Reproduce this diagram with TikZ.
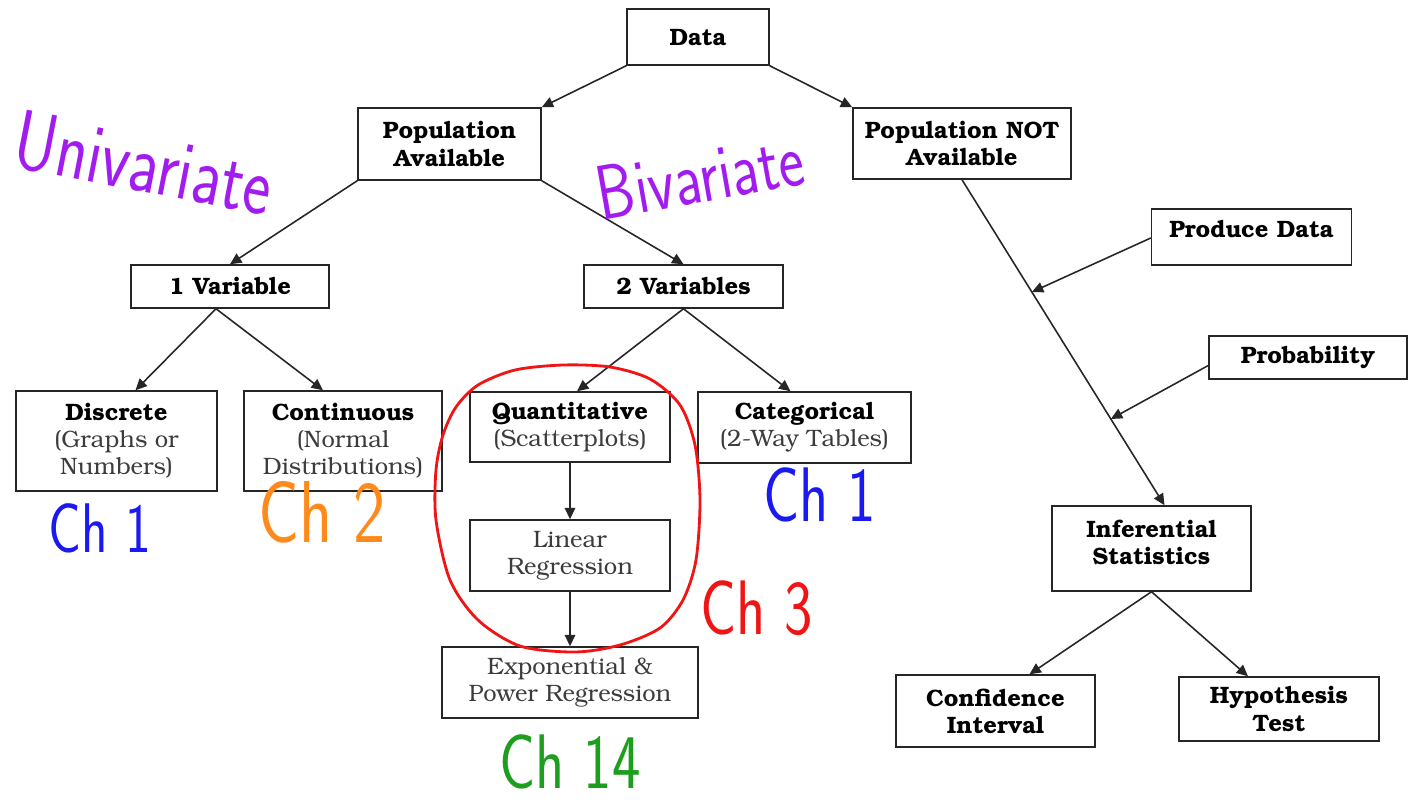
\documentclass[tikz,border=0pt]{standalone}
\usepackage[T1]{fontenc}
\usepackage{fontspec}
\usetikzlibrary{arrows.meta,calc}
\newfontfamily\handfont[FakeStretch=0.78]{lmsans17-regular.otf}
\newcommand\bkfont{\fontencoding{T1}\fontfamily{pbk}\selectfont}
\definecolor{txtgray}{HTML}{3C3C3C}
\definecolor{hpurple}{HTML}{A21CF0}
\definecolor{hblue}{HTML}{1A1AF0}
\definecolor{horange}{HTML}{FF8A1C}
\definecolor{hred}{HTML}{F01414}
\definecolor{hgreen}{HTML}{1E9E1E}
\tikzset{
  box/.style 2 args={draw=black!85, line width=0.85pt, fill=white, align=center,
    inner sep=0pt, minimum width=#1*0.02cm, minimum height=#2*0.02cm,
    font=\bkfont\fontsize{13.5}{15.4}\selectfont\bfseries},
  arr/.style={-{Triangle[length=6.5pt,width=6pt]}, line width=0.9pt, black!85},
  hand/.style={font=\handfont\fontsize{40}{40}\selectfont, inner sep=0pt},
}
\newcommand\sub[1]{{\mdseries\color{txtgray}#1}}
\begin{document}
\begin{tikzpicture}[x=0.02cm,y=-0.02cm]
\useasboundingbox (0,0) rectangle (1418,802);
% nodes
\node[box={142}{56}] (data) at (698,37) {Data};
\node[box={183}{72}] (pa) at (449.5,144) {Population\\Available};
\node[box={218}{71}] (pna) at (962,143.5) {Population NOT\\Available};
\node[box={200}{56}, text depth=0.3cm] (pd) at (1251.5,237) {Produce Data};
\node[box={198}{43}] (prob) at (1308,357.5) {Probability};
\node[box={198}{43}] (v1) at (230,286.5) {1 Variable};
\node[box={199}{43}] (v2) at (683.5,286.5) {2 Variables};
\node[box={201}{100}] (disc) at (116.5,441) {Discrete\\\sub{(Graphs or}\\\sub{Numbers)}};
\node[box={198}{100}] (cont) at (343,441) {Continuous\\\sub{(Normal}\\\sub{Distributions)}};
\node[box={200}{70}] (quant) at (570,427) {Quantitative\\\sub{(Scatterplots)}};
\node[box={213}{71}] (cat) at (804.5,427.5) {Categorical\\\sub{(2-Way Tables)}};
\node[box={200}{71}] (lin) at (570,555.5) {\sub{Linear}\\\sub{Regression}};
\node[box={256}{71}] (expo) at (570,682.5) {\sub{Exponential \&}\\\sub{Power Regression}};
\node[box={199}{85}, text depth=0.25cm] (inf) at (1151.5,548.5) {Inferential\\Statistics};
\node[box={199}{72}] (conf) at (995.5,711) {Confidence\\Interval};
\node[box={200}{64}] (hyp) at (1279,709) {Hypothesis\\Test};
% helper coordinates
\coordinate (v1b) at ($(v1.south)+(-14,0)$);
\coordinate (pline1) at ($(pna.south)!0.345!($(inf.north)+(13,0)$)$);
\coordinate (pline2) at ($(pna.south)!0.735!($(inf.north)+(13,0)$)$);
% connectors
\draw[arr] (data.south west) -- (pa.north east);
\draw[arr] (data.south east) -- (pna.north west);
\draw[arr] (pa.south west) -- (v1.north);
\draw[arr] (pa.south east) -- (v2.north);
\draw[arr] (v1b) -- ($(disc.north)+(19,0)$);
\draw[arr] (v1b) -- ($(cont.north)+(-20,0)$);
\draw[arr] (v2.south) -- ($(quant.north)+(7,0)$);
\draw[arr] (v2.south) -- ($(cat.north)+(-14,0)$);
\draw[arr] (quant.south) -- (lin.north);
\draw[arr] (lin.south) -- (expo.north);
\draw[arr] (pna.south) -- ($(inf.north)+(13,0)$);
\draw[arr] ($(pd.west)+(0,1)$) -- (pline1);
\draw[arr] ($(prob.west)+(0,8)$) -- (pline2);
\draw[arr] (inf.south) -- ($(conf.north)+(34,0)$);
\draw[arr] (inf.south) -- ($(hyp.north)+(-31,0)$);
% handwritten annotations
\node[hand, text=hpurple, rotate=-11, font=\handfont\fontsize{48}{48}\selectfont] (uni) at (144,163) {Univariate};
\node[hand, text=hpurple, rotate=10, font=\handfont\fontsize{44}{44}\selectfont] (biv) at (700,176) {Bivariate};
\node[hand, text=hblue] (ch1a) at (100,528) {Ch 1};
\node[hand, text=horange, font=\handfont\fontsize{50}{50}\selectfont] (ch2) at (322,512) {Ch 2};
\node[hand, text=hblue, font=\handfont\fontsize{44}{44}\selectfont] (ch1b) at (820,495) {Ch 1};
\node[hand, text=hred, font=\handfont\fontsize{44}{44}\selectfont] (ch3) at (757,608) {Ch 3};
\node[hand, text=hgreen, font=\handfont\fontsize{44}{44}\selectfont] (ch14) at (570,762) {Ch 14};
\draw[hred, line width=1.6pt] plot[smooth cycle, tension=0.5] coordinates {
 (563,365) (610,367) (650,379) (680,405) (695,445) (700,500) (696,560) (683,600)
 (660,628) (620,645) (575,652) (520,646) (478,620) (450,580) (436,520) (436,470)
 (443,435) (456,407) (478,385) (515,370)};
\end{tikzpicture}
\end{document}
